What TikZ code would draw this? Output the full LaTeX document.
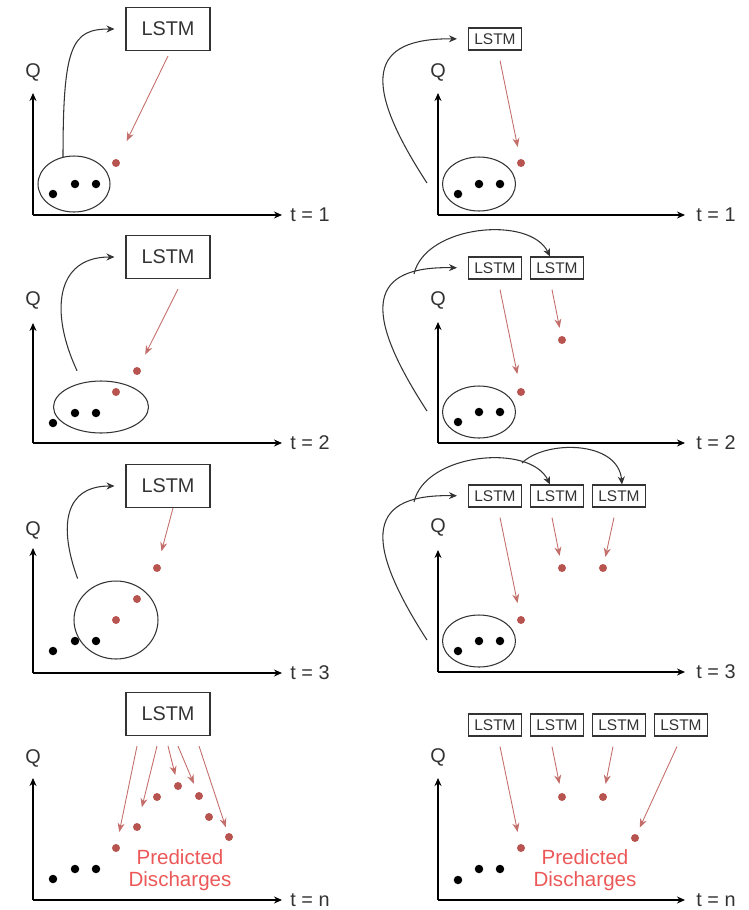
\documentclass[tikz,border=0pt]{standalone}
\usepackage{fontspec}
\setmainfont{Liberation Sans}
\usetikzlibrary{arrows.meta,calc,shapes.geometric}
\definecolor{lstmred}{RGB}{184,84,80}
\definecolor{predred}{RGB}{236,88,88}
\definecolor{inkgray}{RGB}{51,51,51}

\begin{document}
\begin{tikzpicture}[
			x=0.02cm, y=-0.02cm,
			axis/.style={draw=black, line width=0.8pt, -{Stealth[length=1.6mm,width=1.4mm]}},
			flow/.style={draw=inkgray, line width=0.6pt, -{Stealth[length=1.6mm,width=1.4mm]}},
			pred/.style={draw=lstmred!85, line width=0.5pt, -{Stealth[length=1.8mm,width=1.4mm]}, shorten >=2.4mm},
			bigbox/.style={rectangle, draw=inkgray, line width=0.6pt, minimum width=16.8mm, minimum height=8.6mm, inner sep=0pt, font=\fontsize{11.3}{13}\selectfont, text=inkgray},
			smallbox/.style={rectangle, draw=inkgray, line width=0.6pt, minimum width=10.6mm, minimum height=4.4mm, inner sep=0pt, font=\fontsize{8.8}{10}\selectfont, text=inkgray},
			group/.style={ellipse, draw=inkgray, line width=0.6pt, inner sep=0pt},
			obs/.style={circle, fill=black, minimum size=1.7mm, inner sep=0pt},
			est/.style={circle, fill=lstmred, minimum size=1.6mm, inner sep=0pt},
			lbl/.style={font=\fontsize{11.3}{13}\selectfont, text=inkgray},
			note/.style={font=\fontsize{11.7}{12.5}\selectfont, text=predred, align=center}
			]
			\useasboundingbox (0,0) rectangle (748,910);
			
			% left column: one LSTM fed with its own outputs
			\coordinate (o1) at (33,215);
			\draw[axis] (o1) -- ++(0,-122);
			\draw[axis] (o1) -- ++(249,0);
			\node[lbl] (q1) at (33,72) {Q};
			\node[lbl] (t1) at (310,215) {t = 1};
			\node[bigbox] (L1) at (168,29) {LSTM};
			\node[group, minimum width=14.4mm, minimum height=11.2mm] (e1) at (74,184) {};
			\node[obs] (a1) at (53,194) {};
			\node[obs] (b1) at (75,184) {};
			\node[obs] (c1) at (96,184) {};
			\node[est] (p1) at (116,163) {};
			\draw[flow, shorten >=2.2mm] (e1.112) .. controls (63,45) and (72,29) .. (L1.west);
			\draw[pred, shorten >=4mm] ($(L1.south)+(0,5)$) -- (p1);
			
			\coordinate (o2) at (33,443);
			\draw[axis] (o2) -- ++(0,-120);
			\draw[axis] (o2) -- ++(249,0);
			\node[lbl] (q2) at (33,300) {Q};
			\node[lbl] (t2) at (310,443) {t = 2};
			\node[bigbox] (L2) at (168,257) {LSTM};
			\node[group, minimum width=19mm, minimum height=10.4mm] (e2) at (101,407) {};
			\node[obs] (a2) at (53,423) {};
			\node[obs] (b2) at (75,413) {};
			\node[obs] (c2) at (96,413) {};
			\node[est] (p2a) at (116,392) {};
			\node[est] (p2b) at (137,371) {};
			\draw[flow, shorten <=2.6mm, shorten >=2.2mm] (e2.127) .. controls (50,313) and (55,257) .. (L2.west);
			\draw[pred, shorten >=2.8mm] ($(L2.south)+(10,10)$) -- (p2b);
			
			\coordinate (o3) at (33,673);
			\draw[axis] (o3) -- ++(0,-125);
			\draw[axis] (o3) -- ++(249,0);
			\node[lbl] (q3) at (33,530) {Q};
			\node[lbl] (t3) at (310,673) {t = 3};
			\node[bigbox] (L3) at (168,486) {LSTM};
			\node[group, minimum width=16.8mm, minimum height=15.6mm] (e3) at (116,620) {};
			\node[obs] (a3) at (53,651) {};
			\node[obs] (b3) at (75,641) {};
			\node[obs] (c3) at (96,641) {};
			\node[est] (p3a) at (116,620) {};
			\node[est] (p3b) at (137,599) {};
			\node[est] (p3c) at (157,568) {};
			\draw[flow, shorten <=3.4mm, shorten >=2.2mm] (e3.142) .. controls (58,525) and (65,486) .. (L3.west);
			\draw[pred, shorten >=2.6mm] ($(L3.south)+(5,0)$) -- (p3c);
			
			\coordinate (o4) at (33,900);
			\draw[axis] (o4) -- ++(0,-122);
			\draw[axis] (o4) -- ++(249,0);
			\node[lbl] (q4) at (33,758) {Q};
			\node[lbl] (t4) at (310,900) {t = n};
			\node[bigbox] (L4) at (168,714) {LSTM};
			\node[obs] (a4) at (53,879) {};
			\node[obs] (b4) at (75,869) {};
			\node[obs] (c4) at (96,869) {};
			\node[est] (p4a) at (116,848) {};
			\node[est] (p4b) at (137,827) {};
			\node[est] (p4c) at (157,797) {};
			\node[est] (p4d) at (178,786) {};
			\node[est] (p4e) at (199,796) {};
			\node[est] (p4f) at (209,817) {};
			\node[est] (p4g) at (229,837) {};
			\draw[pred] ($(L4.south)+(-31,10)$) -- (p4a);
			\draw[pred, shorten >=3.2mm] ($(L4.south)+(-11,10)$) -- (p4b);
			\draw[pred, shorten >=1.4mm] ($(L4.south)+(0,10)$) -- (p4d);
			\draw[pred, shorten >=1.8mm] ($(L4.south)+(10,10)$) -- (p4e);
			\draw[pred, shorten >=1.2mm] ($(L4.south)+(31,10)$) -- (p4g);
			\node[note] (n4) at (180,870) {Predicted\\Discharges};
			
			% right column: a new LSTM for every step
			\coordinate (o5) at (438,215);
			\draw[axis] (o5) -- ++(0,-122);
			\draw[axis] (o5) -- ++(247,0);
			\node[lbl] (q5) at (438,72) {Q};
			\node[lbl] (t5) at (716,215) {t = 1};
			\node[smallbox] (r1a) at (495,39) {LSTM};
			\node[group, minimum width=14.6mm, minimum height=10.8mm] (re1) at (479,184) {};
			\node[obs] (a5) at (458,194) {};
			\node[obs] (b5) at (479,184) {};
			\node[obs] (c5) at (500,184) {};
			\node[est] (p5) at (521,163) {};
			\draw[flow, shorten >=2.2mm] ($(re1.west)+(-15,-1)$) .. controls (360,80) and (370,38) .. (r1a.west);
			\draw[pred] ($(r1a.south)+(5,10)$) -- (p5);
			
			\coordinate (o6) at (438,443);
			\draw[axis] (o6) -- ++(0,-121);
			\draw[axis] (o6) -- ++(247,0);
			\node[lbl] (q6) at (438,300) {Q};
			\node[lbl] (t6) at (716,443) {t = 2};
			\node[smallbox] (r2a) at (495,268) {LSTM};
			\node[smallbox] (r2b) at (557,268) {LSTM};
			\node[group, minimum width=14.6mm, minimum height=10.4mm] (re2) at (479,412) {};
			\node[obs] (a6) at (458,422) {};
			\node[obs] (b6) at (479,412) {};
			\node[obs] (c6) at (500,412) {};
			\node[est] (p6a) at (521,392) {};
			\node[est] (p6b) at (562,340) {};
			\draw[flow, shorten >=2.2mm] ($(re2.west)+(-15,-1)$) .. controls (360,308) and (370,266) .. (r2a.west);
			\coordinate (f6) at (414,274);
			\draw[flow] (f6) .. controls (425,225) and (530,215) .. ($(r2b.north)+(-7,0)$);
			\draw[pred, shorten >=2.8mm] ($(r2a.south)+(5,10)$) -- (p6a);
			\draw[pred, shorten >=1.6mm] ($(r2b.south)+(-5,10)$) -- (p6b);
			
			\coordinate (o7) at (438,672);
			\draw[axis] (o7) -- ++(0,-122);
			\draw[axis] (o7) -- ++(247,0);
			\node[lbl] (q7) at (438,527) {Q};
			\node[lbl] (t7) at (716,672) {t = 3};
			\node[smallbox] (r3a) at (495,496) {LSTM};
			\node[smallbox] (r3b) at (557,496) {LSTM};
			\node[smallbox] (r3c) at (619,496) {LSTM};
			\node[group, minimum width=14.6mm, minimum height=10.4mm] (re3) at (479,641) {};
			\node[obs] (a7) at (458,651) {};
			\node[obs] (b7) at (479,641) {};
			\node[obs] (c7) at (500,641) {};
			\node[est] (p7a) at (521,620) {};
			\node[est] (p7b) at (562,568) {};
			\node[est] (p7c) at (603,568) {};
			\draw[flow, shorten >=2.2mm] ($(re3.west)+(-15,-1)$) .. controls (360,536) and (370,494) .. (r3a.west);
			\coordinate (f7) at (414,502);
			\draw[flow] (f7) .. controls (425,453) and (530,443) .. ($(r3b.north)+(-7,0)$);
			\coordinate (g7) at (522,463);
			\draw[flow] (g7) .. controls (545,440) and (618,440) .. ($(r3c.north)+(3,0)$);
			\draw[pred, shorten >=2.6mm] ($(r3a.south)+(5,10)$) -- (p7a);
			\draw[pred, shorten >=1.6mm] ($(r3b.south)+(-5,10)$) -- (p7b);
			\draw[pred, shorten >=1.4mm] ($(r3c.south)+(-5,10)$) -- (p7c);
			
			\coordinate (o8) at (438,900);
			\draw[axis] (o8) -- ++(0,-122);
			\draw[axis] (o8) -- ++(247,0);
			\node[lbl] (q8) at (438,757) {Q};
			\node[lbl] (t8) at (716,900) {t = n};
			\node[smallbox] (r4a) at (495,725) {LSTM};
			\node[smallbox] (r4b) at (557,725) {LSTM};
			\node[smallbox] (r4c) at (619,725) {LSTM};
			\node[smallbox] (r4d) at (681,725) {LSTM};
			\node[obs] (a8) at (458,880) {};
			\node[obs] (b8) at (479,869) {};
			\node[obs] (c8) at (500,869) {};
			\node[est] (p8a) at (521,848) {};
			\node[est] (p8b) at (562,797) {};
			\node[est] (p8c) at (603,797) {};
			\node[est] (p8d) at (635,838) {};
			\draw[pred] ($(r4a.south)+(5,10)$) -- (p8a);
			\draw[pred, shorten >=1.8mm] ($(r4b.south)+(-5,10)$) -- (p8b);
			\draw[pred, shorten >=1.8mm] ($(r4c.south)+(-6,10)$) -- (p8c);
			\draw[pred, shorten >=1.4mm] ($(r4d.south)+(-4,10)$) -- (p8d);
			\node[note] (n8) at (585,870) {Predicted\\Discharges};
		\end{tikzpicture}
\end{document}
